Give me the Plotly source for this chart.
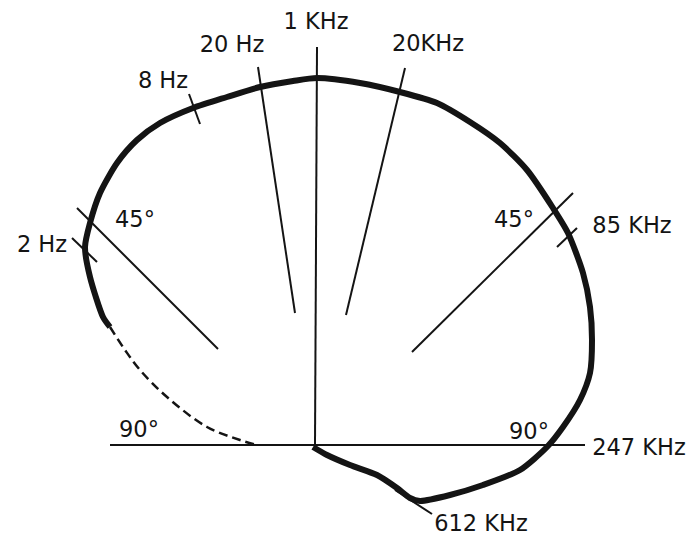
import plotly.graph_objects as go

# Impedance locus (real part, imaginary part), arbitrary units, origin at axes crossing
locus_re = [-205, -212, -225, -230, -225, -215, -198, -178, -155, -122, -88, -55, -22, 2,
            45, 85, 122, 155, 185, 212, 238, 253, 268, 275, 277, 275, 265, 248, 232, 205,
            168, 135, 105, 95, 82, 62, 35, 12, -2]
locus_im = [118, 128, 168, 198, 222, 252, 282, 305, 322, 337, 348, 358, 364, 367,
            362, 353, 342, 323, 302, 275, 237, 212, 172, 138, 105, 72, 45, 18, -2, -25,
            -40, -50, -56, -53, -43, -30, -20, -10, -2]

# Extrapolated (dashed) part of the locus
dash_re = [-205, -190, -175, -148, -108, -75, -58]
dash_im = [118, 95, 75, 48, 18, 5, 0]

# Reference axes
axis_re = [-205, 270, None, 0, 2]
axis_im = [0, 0, None, 0, 398]

# Radial phase / frequency guide lines (start, end)
guide_re = [[-57, -20], [90, 31], [-238, -97], [258, 97]]
guide_im = [[378, 132], [377, 130], [237, 96], [252, 93]]

# Frequency tick marks on the locus
tick_re = [[-126, -115], [-243, -218], [242, 262], [80, 117]]
tick_im = [[351, 321], [207, 183], [198, 217], [-45, -69]]

# Labels
label_text = ["1 KHz", "20 Hz", "8 Hz", "45°", "2 Hz", "20KHz", "45°", "85 KHz",
              "90°", "90°", "247 KHz", "612 KHz"]
label_re = [1, -83, -152, -180, -273, 113, 199, 317, -176, 214, 324, 166]
label_im = [422, 399, 363, 224, 199, 400, 224, 218, 14, 12, -4, -80]

INK = "#141414"
fig = go.Figure()

fig.add_trace(go.Scatter(x=axis_re, y=axis_im, mode="lines",
                         line=dict(color=INK, width=2)))
for gx, gy in zip(guide_re, guide_im):
    fig.add_trace(go.Scatter(x=gx, y=gy, mode="lines", line=dict(color=INK, width=2)))
for tx, ty in zip(tick_re, tick_im):
    fig.add_trace(go.Scatter(x=tx, y=ty, mode="lines", line=dict(color=INK, width=2)))
fig.add_trace(go.Scatter(x=dash_re, y=dash_im, mode="lines",
                         line=dict(color=INK, width=2.5, dash="9px,5px", shape="spline")))
fig.add_trace(go.Scatter(x=locus_re, y=locus_im, mode="lines",
                         line=dict(color=INK, width=6, shape="spline", smoothing=0.7)))
fig.add_trace(go.Scatter(x=label_re, y=label_im, mode="text", text=label_text,
                         textposition="middle center", cliponaxis=False,
                         textfont=dict(family="DejaVu Sans", size=22.5, color=INK)))

fig.update_layout(
    width=693, height=538,
    margin=dict(l=0, r=0, t=0, b=0),
    paper_bgcolor="white", plot_bgcolor="white",
    showlegend=False, hovermode=False,
    xaxis=dict(range=[-315, 378], visible=False, fixedrange=True),
    yaxis=dict(range=[-93, 445], visible=False, fixedrange=True),
)

fig.write_html("out.html", config={"displayModeBar": False, "staticPlot": True},
               post_script="document.body.style.margin='0';document.body.style.overflow='hidden';")
